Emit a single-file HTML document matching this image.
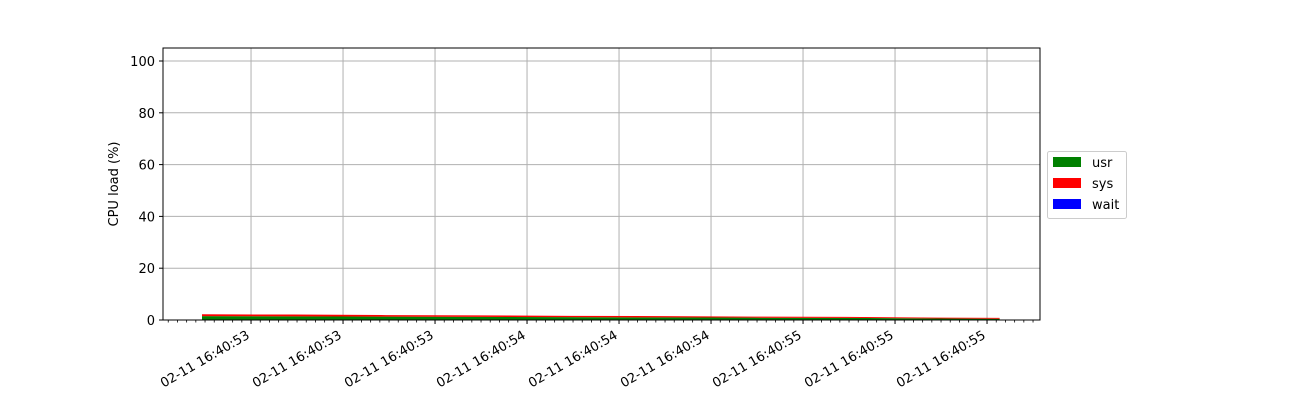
<!DOCTYPE html>
<html><head><meta charset="utf-8"><style>
body{margin:0;background:#fff;width:1300px;height:400px;overflow:hidden}
text{font-family:"DejaVu Sans","Liberation Sans",sans-serif;font-size:13px;fill:#000}
</style></head><body>
<svg id="chart" width="1300" height="400">
<rect x="163" y="48" width="877" height="272" fill="#fff"/>
<g id="grid"></g><g id="areas"></g><g id="axes"></g>
<rect x="163" y="48" width="877" height="272" fill="none" stroke="#000" stroke-width="1"/>
<text transform="translate(118,184) rotate(-90)" text-anchor="middle">CPU load (%)</text>
<g>
<rect x="1047.5" y="151.5" width="79" height="67" rx="2" fill="#fff" stroke="#ccc"/>
<g><rect x="1053" y="157" width="28" height="10" fill="green"/><text x="1092" y="167">usr</text></g>
<g><rect x="1053" y="178" width="28" height="10" fill="red"/><text x="1092" y="188">sys</text></g>
<g><rect x="1053" y="199" width="28" height="10" fill="blue"/><text x="1092" y="209">wait</text></g>
</g>
</svg>
<script>
const times=[0,1,2,3,4,5,6,7,8,8.67];
const usr=[1.5,1.4,1.3,1.2,1.1,1.0,0.9,0.8,0.6,0.5];
const sys=[0.7,0.7,0.6,0.6,0.5,0.5,0.4,0.4,0.3,0.3];
const wait=[0,0,0,0,0,0,0,0,0,0];
const yTicks=[0,20,40,60,80,100];
const xTickPos=[0.533,1.533,2.533,3.533,4.533,5.533,6.533,7.533,8.533];
const xTickLabels=["02-11 16:40:53","02-11 16:40:53","02-11 16:40:53","02-11 16:40:54","02-11 16:40:54","02-11 16:40:54","02-11 16:40:55","02-11 16:40:55","02-11 16:40:55"];
const NS="http://www.w3.org/2000/svg";
const X=t=>202+t*92, Y=v=>320-v*2.59;
function mk(tag,attrs,parent){const e=document.createElementNS(NS,tag);for(const k in attrs)e.setAttribute(k,attrs[k]);parent.appendChild(e);return e;}
const grid=document.getElementById('grid'),axes=document.getElementById('axes'),areas=document.getElementById('areas');
yTicks.forEach(v=>{
 const l=mk('line',{x1:163,x2:1040,y1:Y(v),y2:Y(v),stroke:'#b0b0b0','stroke-width':1},grid);
 
 
 mk('line',{x1:159,x2:163,y1:Y(v),y2:Y(v),stroke:'#000'},axes);
 const t=mk('text',{x:155,y:Y(v)+5,'text-anchor':'end'},axes);t.textContent=v;
 
 
});
for(let m=-3.6;m<9.0;m+=0.1){const x=X(0.533+m);if(x<164||x>1039)continue;mk('line',{x1:x,x2:x,y1:320,y2:322.5,stroke:'#000','stroke-width':0.8},axes);}
xTickPos.forEach((p,i)=>{
 const x=X(p);
 const l=mk('line',{x1:x,x2:x,y1:48,y2:320,stroke:'#b0b0b0'},grid);
 
 
 mk('line',{x1:x,x2:x,y1:320,y2:324,stroke:'#000'},axes);
 const t=mk('text',{transform:`translate(${x-5},${330}) rotate(-30)`,'text-anchor':'end','dominant-baseline':'hanging','font-size':'13.8'},axes);
 t.textContent=xTickLabels[i];
 
 
});
function band(lo,hi,color,name){
 let d='M'+times.map((t,i)=>X(t)+','+Y(hi[i])).join('L');
 for(let i=times.length-1;i>=0;i--)d+='L'+X(times[i])+','+Y(lo[i]);
 const p=mk('path',{d:d+'Z',fill:color},areas);
 
 
}
const z=times.map(()=>0),s1=usr.slice(),s2=usr.map((v,i)=>v+sys[i]),s3=s2.map((v,i)=>v+wait[i]);
band(z,s1,'green','usr-area');band(s1,s2,'red','sys-area');band(s2,s3,'blue','wait-area');
</script>
</body></html>
